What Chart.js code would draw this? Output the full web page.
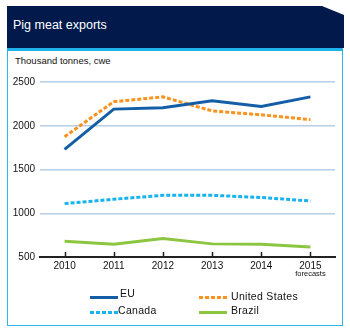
<!DOCTYPE html>
<html>
<head>
<meta charset="utf-8">
<script src="https://cdn.jsdelivr.net/npm/chart.js@4.4.1/dist/chart.umd.min.js"></script>
<style>
    body { margin: 0; background: #fff; }
    #wrap { position: relative; width: 350px; height: 332px; font-family: "Liberation Sans", Arial, sans-serif; }
    #head {
        position: absolute; left: 7px; top: 6px; width: 337px; height: 42px;
        background: #011a4b;
        clip-path: polygon(0 0, 315px 0, 337px 9px, 337px 42px, 0 42px);
    }
    #head span { position: absolute; left: 6px; top: 12px; color: #fff; font-size: 12.5px; }
    #box {
        position: absolute; left: 7px; top: 48px; width: 334px; height: 274px;
        border: 1.5px solid #2cb7ee; border-top: 3px solid #1eb1ec;
    }
    #unit { position: absolute; left: 15px; top: 55px; font-size: 9.5px; color: #111; }
    #chart { position: absolute; left: 0; top: 0; }
    .leg { position: absolute; font-size: 10.5px; color: #111; letter-spacing: 0.3px; }
    .sw { position: absolute; width: 28px; height: 3px; }
</style>
</head>
<body>
<div id="wrap">
    <div id="head"><span>Pig meat exports</span></div>
    <div id="box"></div>
    <div id="unit">Thousand tonnes, cwe</div>
    <canvas id="chart" width="350" height="332"></canvas>
    <div id="legend"></div>
</div>
<script>
// years on the x axis, thousand tonnes on y
const years   = ["2010", "2011", "2012", "2013", "2014", "2015"];
const eu      = [1730, 2190, 2205, 2285, 2220, 2330];
const usa     = [1875, 2275, 2330, 2170, 2125, 2070];
const canada  = [1110, 1160, 1205, 1205, 1180, 1140];
const brazil  = [680, 645, 710, 650, 645, 615];
const yTicks  = [500, 1000, 1500, 2000, 2500];

const series = [
    { label: "EU",            data: eu,     color: "#135ea6", dash: [] },
    { label: "United States", data: usa,    color: "#f8931f", dash: [4, 2] },
    { label: "Canada",        data: canada, color: "#17b3ee", dash: [4, 2] },
    { label: "Brazil",        data: brazil, color: "#8cc540", dash: [] },
];

// short upward tick marks on the x axis plus the "forecasts" note under 2015
const axisExtras = {
    id: "axisExtras",
    afterDraw(chart) {
        const { ctx, scales: { x }, chartArea } = chart;
        ctx.save();
        ctx.strokeStyle = "#222";
        ctx.lineWidth = 1.5;
        years.forEach((y, i) => {
            const px = Math.round(x.getPixelForValue(i)) + 0.5;
            ctx.beginPath();
            ctx.moveTo(px, chartArea.bottom);
            ctx.lineTo(px, chartArea.bottom - 5);
            ctx.stroke();
        });
        ctx.fillStyle = "#111";
        ctx.font = "7.5px 'Liberation Sans', Arial, sans-serif";
        ctx.textAlign = "center";
        ctx.textBaseline = "middle";
        ctx.fillText("forecasts", x.getPixelForValue(years.length - 1), chartArea.bottom + 17);
        ctx.restore();
    }
};

const chart = new Chart(document.getElementById("chart"), {
    type: "line",
    data: {
        labels: years,
        datasets: series.map(s => ({
            label: s.label,
            data: s.data,
            borderColor: s.color,
            backgroundColor: s.color,
            borderDash: s.dash,
            borderWidth: 3,
            pointRadius: 0,
            tension: 0,
            fill: false,
        })),
    },
    options: {
        responsive: false,
        animation: false,
        layout: { padding: { top: 82, right: 15, left: 0, bottom: 0 } },
        plugins: { legend: { display: false }, tooltip: { enabled: false } },
        scales: {
            x: {
                offset: true,
                afterFit: s => { s.height = 75; },
                grid: { display: false, drawTicks: false },
                border: { color: "#222", width: 2 },
                ticks: { color: "#111", padding: 3, font: { size: 10, family: "'Liberation Sans', Arial, sans-serif" } },
            },
            y: {
                min: 500,
                max: 2500,
                afterFit: s => { s.width = 40; },
                afterBuildTicks: s => { s.ticks = yTicks.map(v => ({ value: v })); },
                grid: {
                    drawTicks: false,
                    lineWidth: 1.5,
                    color: c => c.tick && c.tick.value === 500 ? "rgba(0,0,0,0)" : "#b8cde6",
                },
                border: { display: false },
                ticks: {
                    color: "#111",
                    padding: 5,
                    font: { size: 10, family: "'Liberation Sans', Arial, sans-serif" },
                    callback: v => String(v),
                },
            },
        },
    },
    plugins: [axisExtras],
});

// two-column legend below the plot
const legendPos = [
    { lx: 90,  tx: 120, ly: 297, ty: 287 },
    { lx: 199, tx: 231, ly: 297, ty: 290 },
    { lx: 90,  tx: 118, ly: 312, ty: 304 },
    { lx: 199, tx: 231, ly: 312, ty: 304 },
];
const legend = document.getElementById("legend");
chart.data.datasets.forEach((ds, i) => {
    const p = legendPos[i];
    const sw = document.createElement("div");
    sw.className = "sw";
    sw.style.left = p.lx + "px";
    sw.style.top = (p.ly - 1.5) + "px";
    sw.style.background = ds.borderDash.length
        ? `repeating-linear-gradient(90deg, ${ds.borderColor} 0 4px, transparent 4px 6px)`
        : ds.borderColor;
    legend.appendChild(sw);
    const t = document.createElement("div");
    t.className = "leg";
    t.style.left = p.tx + "px";
    t.style.top = p.ty + "px";
    t.textContent = ds.label;
    legend.appendChild(t);
});
</script>
</body>
</html>
